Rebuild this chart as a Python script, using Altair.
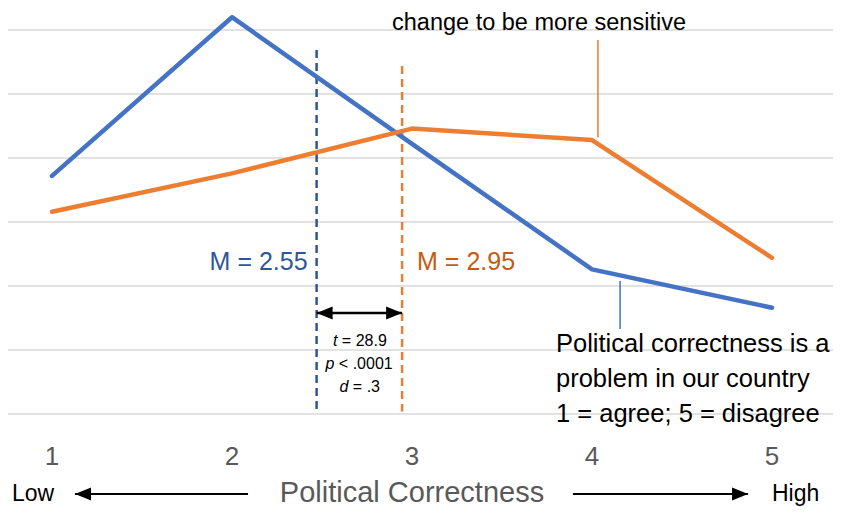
import altair as alt
import pandas as pd

# ---------------- data ----------------
levels = [1, 2, 3, 4, 5]
level_labels = ["1", "2", "3", "4", "5"]
problem_pct = [18.6, 31.0, 21.1, 11.3, 8.3]       # blue series
sensitive_pct = [15.8, 18.8, 22.3, 21.4, 12.2]    # orange series
series_names = [
    "Political correctness is a problem in our country",
    "Speech should change to be more sensitive",
]
grid_values = [0, 5, 10, 15, 20, 25, 30]
mean_labels = ["M = 2.55", "M = 2.95"]
mean_positions = [2.47, 2.945]
stat_names = ["t", "p", "d"]
stat_rest = ["= 28.9", "< .0001", "= .3"]
x_title = "Political Correctness"
low_label = "Low"
high_label = "High"
top_note = "change to be more sensitive"
bottom_note = ["Political correctness is a", "problem in our country", "1 = agree; 5 = disagree"]

# ---------------- styling / layout ----------------
FONT = "Liberation Sans"
BLUE = "#4472C4"
ORANGE = "#ED7D31"
BLUE_DARK = "#2F5597"
ORANGE_DARK = "#C55A11"
GRID = "#D9D9D9"
GRAY_TXT = "#595959"

W, H = 825, 500
PX_PER_X = 180.0
X0 = 1 - 44 / PX_PER_X
X1 = X0 + W / PX_PER_X
Y0, Y1 = -7.34375, 31.71875

xs = alt.Scale(domain=[X0, X1], nice=False, zero=False)
ys = alt.Scale(domain=[Y0, Y1], nice=False, zero=False)

one = pd.DataFrame({"k": [0]})


def xd(v):
    return alt.XDatum(v, scale=xs, axis=None)


def yd(v):
    return alt.YDatum(v, scale=ys, axis=None)


LEFT_HEAD = "M0,0 L2,-0.8 L2,0.8 Z"
RIGHT_HEAD = "M0,0 L-2,-0.8 L-2,0.8 Z"

layers = []

# gridlines
grid_df = pd.DataFrame({"g": grid_values})
layers.append(
    alt.Chart(grid_df).mark_rule(color=GRID, strokeWidth=1.5).encode(
        x=alt.value(0), x2=alt.value(W), y=alt.Y("g:Q", scale=ys, axis=None)
    )
)

# mean dashed lines
layers.append(
    alt.Chart(one).mark_rule(color=BLUE_DARK, strokeWidth=2.5, strokeDash=[8, 5]).encode(
        x=xd(mean_positions[0]), y=yd(28.44), y2=alt.Y2Datum(0.2)
    )
)
layers.append(
    alt.Chart(one).mark_rule(color=ORANGE, strokeWidth=2.5, strokeDash=[8, 5]).encode(
        x=xd(mean_positions[1]), y=yd(27.19), y2=alt.Y2Datum(0.2)
    )
)

# main lines
df = pd.DataFrame({
    "level": levels * 2,
    "pct": problem_pct + sensitive_pct,
    "series": [series_names[0]] * 5 + [series_names[1]] * 5,
})
layers.append(
    alt.Chart(df).mark_line(strokeWidth=4.5, strokeCap="round", strokeJoin="round").encode(
        x=alt.X("level:Q", scale=xs, axis=None),
        y=alt.Y("pct:Q", scale=ys, axis=None),
        color=alt.Color("series:N", scale=alt.Scale(domain=series_names, range=[BLUE, ORANGE]), legend=None),
    )
)

# leader lines
layers.append(
    alt.Chart(one).mark_rule(color=ORANGE, strokeWidth=1.5).encode(
        x=xd(4.033), y=yd(29.22), y2=alt.Y2Datum(21.6)
    )
)
layers.append(
    alt.Chart(one).mark_rule(color=BLUE, strokeWidth=1.5).encode(
        x=xd(4.156), y=yd(10.39), y2=alt.Y2Datum(6.64)
    )
)

# double arrow between means
AY = 305
layers.append(
    alt.Chart(one).mark_rule(color="black", strokeWidth=2.5).encode(
        x=xd(mean_positions[0]), x2=alt.X2Datum(mean_positions[1]), y=alt.value(AY)
    )
)
layers.append(
    alt.Chart(one).mark_point(shape=LEFT_HEAD, size=256, filled=True, color="black", opacity=1).encode(
        x=xd(mean_positions[0]), y=alt.value(AY)
    )
)
layers.append(
    alt.Chart(one).mark_point(shape=RIGHT_HEAD, size=256, filled=True, color="black", opacity=1).encode(
        x=xd(mean_positions[1]), y=alt.value(AY)
    )
)

# bottom arrows
BY = 486
layers.append(
    alt.Chart(one).mark_rule(color="black", strokeWidth=2).encode(
        x=xd(1.128), x2=alt.X2Datum(2.089), y=alt.value(BY)
    )
)
layers.append(
    alt.Chart(one).mark_point(shape=LEFT_HEAD, size=256, filled=True, color="black", opacity=1).encode(
        x=xd(1.128), y=alt.value(BY)
    )
)
layers.append(
    alt.Chart(one).mark_rule(color="black", strokeWidth=2).encode(
        x=xd(3.894), x2=alt.X2Datum(4.867), y=alt.value(BY)
    )
)
layers.append(
    alt.Chart(one).mark_point(shape=RIGHT_HEAD, size=256, filled=True, color="black", opacity=1).encode(
        x=xd(4.867), y=alt.value(BY)
    )
)

# tick labels
tick_df = pd.DataFrame({"level": levels, "label": level_labels})
layers.append(
    alt.Chart(tick_df).mark_text(font=FONT, fontSize=26, color=GRAY_TXT, baseline="alphabetic").encode(
        x=alt.X("level:Q", scale=xs, axis=None), y=alt.value(457), text="label:N"
    )
)

# axis title and low/high
layers.append(
    alt.Chart(one).mark_text(text=x_title, font=FONT, fontSize=29, color=GRAY_TXT, baseline="alphabetic").encode(
        x=xd(3.0), y=alt.value(494)
    )
)
layers.append(
    alt.Chart(one).mark_text(text=low_label, font=FONT, fontSize=23, color="black", align="left", baseline="alphabetic").encode(
        x=xd(0.7778), y=alt.value(493)
    )
)
layers.append(
    alt.Chart(one).mark_text(text=high_label, font=FONT, fontSize=23, color="black", align="left", baseline="alphabetic").encode(
        x=xd(5.0), y=alt.value(493)
    )
)

# top note
layers.append(
    alt.Chart(one).mark_text(text=top_note, font=FONT, fontSize=23.5, color="black", baseline="alphabetic").encode(
        x=xd(3.7056), y=alt.value(22)
    )
)

# bottom-right note
layers.append(
    alt.Chart(one).mark_text(text=bottom_note, font=FONT, fontSize=25.5, color="black", align="left",
                             baseline="alphabetic", lineHeight=35).encode(
        x=xd(3.8), y=alt.value(344)
    )
)

# mean labels
layers.append(
    alt.Chart(one).mark_text(text=mean_labels[0], font=FONT, fontSize=25, color=BLUE_DARK, align="right",
                             baseline="alphabetic", dx=-9).encode(
        x=xd(mean_positions[0]), y=alt.value(262)
    )
)
layers.append(
    alt.Chart(one).mark_text(text=mean_labels[1], font=FONT, fontSize=25, color=ORANGE_DARK, align="left",
                             baseline="alphabetic", dx=15).encode(
        x=xd(mean_positions[1]), y=alt.value(262)
    )
)

# stats
mid = (mean_positions[0] + mean_positions[1]) / 2
stat_y = [338, 361, 384]
stat_split = [-22, -25, -11]
for nm, rest, yy, sp in zip(stat_names, stat_rest, stat_y, stat_split):
    layers.append(
        alt.Chart(one).mark_text(text=nm, font=FONT, fontSize=16, fontStyle="italic", color="black",
                                 align="right", baseline="alphabetic", dx=sp).encode(
            x=xd(mid), y=alt.value(yy)
        )
    )
    layers.append(
        alt.Chart(one).mark_text(text=rest, font=FONT, fontSize=16, color="black",
                                 align="left", baseline="alphabetic", dx=sp + 4.5).encode(
            x=xd(mid), y=alt.value(yy)
        )
    )

chart = alt.layer(*layers).properties(
    width=W, height=H, autosize=alt.AutoSizeParams(type="none"), padding=0
).configure_view(strokeWidth=0)

chart.save("out.html", embed_options={"renderer": "svg", "actions": False})
